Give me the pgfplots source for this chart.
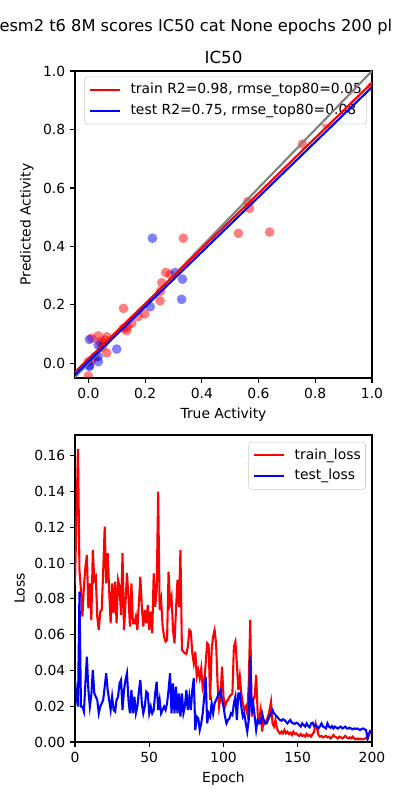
\documentclass[border=0pt]{standalone}
\usepackage{pgfplots}
\pgfplotsset{compat=1.18}
\usepackage{pgfplotstable}
\usepackage{fontspec}
\setmainfont{DejaVu Sans}

\pgfplotstableread{
x y
0.335 0.428
0.529 0.445
0.639 0.449
0.562 0.553
0.568 0.530
0.755 0.750
0.839 0.819
0.924 0.929
1.000 0.946
0.273 0.311
0.288 0.304
0.259 0.276
0.254 0.247
0.253 0.214
0.124 0.188
0.199 0.169
0.176 0.160
0.153 0.137
0.138 0.125
0.135 0.112
0.124 0.120
0.035 0.094
0.012 0.086
0.065 0.091
0.053 0.068
0.047 0.055
0.065 0.036
0.024 0.023
0.012 0.011
0.000 0.006
0.000 -0.043
0.041 0.074
0.059 0.080
}\traintab

\pgfplotstableread{
x y
0.226 0.428
0.306 0.311
0.332 0.288
0.329 0.219
0.218 0.194
0.100 0.049
0.004 0.082
0.035 0.063
0.035 0.023
0.035 0.006
0.004 -0.006
0.004 -0.011
}\testtab

\pgfplotstableread{
epoch train test
0 0.0878 0.0347
1 0.1278 0.0253
2 0.1638 0.0198
3 0.0961 0.0840
4 0.0850 0.0198
5 0.0701 0.0198
6 0.0868 0.0170
7 0.0980 0.0328
8 0.1045 0.0477
9 0.0747 0.0291
10 0.0887 0.0198
11 0.0682 0.0263
12 0.1073 0.0402
13 0.0906 0.0272
14 0.0924 0.0253
15 0.0701 0.0235
16 0.0626 0.0160
17 0.0729 0.0198
18 0.0738 0.0216
19 0.0961 0.0235
20 0.1204 0.0309
21 0.0887 0.0384
22 0.1055 0.0291
23 0.0850 0.0235
24 0.0663 0.0179
25 0.0887 0.0253
26 0.0719 0.0179
27 0.0896 0.0170
28 0.0663 0.0235
29 0.0906 0.0253
30 0.0868 0.0328
31 0.0710 0.0347
32 0.1055 0.0179
33 0.0626 0.0291
34 0.0775 0.0347
35 0.0943 0.0384
36 0.0812 0.0235
37 0.0645 0.0160
38 0.0887 0.0291
39 0.0663 0.0160
40 0.0663 0.0253
41 0.0701 0.0160
42 0.0626 0.0198
43 0.0775 0.0281
44 0.0924 0.0347
45 0.0756 0.0216
46 0.0645 0.0160
47 0.0738 0.0198
48 0.0663 0.0281
49 0.0766 0.0272
50 0.0626 0.0160
51 0.0729 0.0198
52 0.0607 0.0160
53 0.0943 0.0179
54 0.0756 0.0272
55 0.0850 0.0337
56 0.1399 0.0179
57 0.0738 0.0235
58 0.0794 0.0160
59 0.0645 0.0179
60 0.0589 0.0198
61 0.0561 0.0179
62 0.0570 0.0216
63 0.0952 0.0291
64 0.0775 0.0384
65 0.0812 0.0160
66 0.0626 0.0328
67 0.0552 0.0160
68 0.0738 0.0309
69 0.0906 0.0160
70 0.0756 0.0272
71 0.1073 0.0142
72 0.0514 0.0272
73 0.0505 0.0160
74 0.0496 0.0198
75 0.0492 0.0291
76 0.0533 0.0179
77 0.0626 0.0253
78 0.0617 0.0179
79 0.0496 0.0291
80 0.0440 0.0356
81 0.0505 0.0067
82 0.0365 0.0142
83 0.0402 0.0132
84 0.0356 0.0067
85 0.0412 0.0104
86 0.0300 0.0160
87 0.0328 0.0253
88 0.0440 0.0365
89 0.0552 0.0104
90 0.0542 0.0160
91 0.0235 0.0142
92 0.0514 0.0216
93 0.0589 0.0160
94 0.0626 0.0216
95 0.0552 0.0235
96 0.0328 0.0253
97 0.0198 0.0272
98 0.0253 0.0291
99 0.0421 0.0235
100 0.0253 0.0198
101 0.0198 0.0142
102 0.0225 0.0104
103 0.0235 0.0123
104 0.0253 0.0132
105 0.0263 0.0160
106 0.0272 0.0151
107 0.0533 0.0216
108 0.0561 0.0253
109 0.0440 0.0123
110 0.0291 0.0272
111 0.0365 0.0272
112 0.0272 0.0198
113 0.0216 0.0142
114 0.0179 0.0160
115 0.0198 0.0104
116 0.0160 0.0058
117 0.0328 0.0123
118 0.0682 0.0477
119 0.0142 0.0160
120 0.0235 0.0216
121 0.0253 0.0142
122 0.0375 0.0067
123 0.0160 0.0123
124 0.0123 0.0104
125 0.0179 0.0104
126 0.0058 0.0160
127 0.0123 0.0123
128 0.0104 0.0104
129 0.0123 0.0104
130 0.0142 0.0123
131 0.0179 0.0142
132 0.0225 0.0160
133 0.0104 0.0179
134 0.0086 0.0160
135 0.0123 0.0151
136 0.0076 0.0142
137 0.0058 0.0132
138 0.0048 0.0123
139 0.0058 0.0119
140 0.0048 0.0127
141 0.0067 0.0123
142 0.0048 0.0114
143 0.0058 0.0104
144 0.0045 0.0114
145 0.0052 0.0123
146 0.0039 0.0108
147 0.0058 0.0104
148 0.0045 0.0101
149 0.0048 0.0108
150 0.0039 0.0104
151 0.0034 0.0095
152 0.0045 0.0086
153 0.0034 0.0104
154 0.0039 0.0095
155 0.0030 0.0086
156 0.0045 0.0104
157 0.0034 0.0089
158 0.0039 0.0082
159 0.0030 0.0104
160 0.0045 0.0108
161 0.0058 0.0089
162 0.0104 0.0095
163 0.0076 0.0086
164 0.0039 0.0076
165 0.0030 0.0089
166 0.0034 0.0104
167 0.0026 0.0086
168 0.0030 0.0082
169 0.0034 0.0076
170 0.0026 0.0104
171 0.0030 0.0086
172 0.0020 0.0080
173 0.0026 0.0089
174 0.0039 0.0076
175 0.0030 0.0086
176 0.0026 0.0080
177 0.0020 0.0075
178 0.0030 0.0082
179 0.0026 0.0086
180 0.0020 0.0076
181 0.0026 0.0080
182 0.0034 0.0086
183 0.0026 0.0076
184 0.0020 0.0075
185 0.0026 0.0080
186 0.0020 0.0075
187 0.0030 0.0071
188 0.0020 0.0076
189 0.0015 0.0073
190 0.0020 0.0076
191 0.0015 0.0071
192 0.0019 0.0067
193 0.0015 0.0073
194 0.0015 0.0076
195 0.0019 0.0071
196 0.0022 0.0067
197 0.0015 0.0020
198 0.0039 0.0048
199 0.0058 0.0067
}\losstab

\pgfplotsset{
  mplstyle/.style={
    scale only axis,
    width=213.84pt, height=221.04pt,
    axis line style={line width=0.8pt},
    tick align=outside, tick pos=left,
    major tick length=3.5pt,
    every tick/.style={black, line width=0.8pt},
    /pgf/number format/assume math mode=true,
    tick label style={font=\fontsize{10}{12}\selectfont},
    label style={font=\fontsize{10}{12}\selectfont},
    title style={font=\fontsize{12}{14}\selectfont},
    legend cell align=left,
    legend image code/.code={\draw[#1, line width=1.5pt] (0pt,0pt) -- (21pt,0pt);},
    legend style={draw=black!20, rounded corners=2pt, fill=white, fill opacity=0.8, text opacity=1,
      font=\fontsize{10}{12}\selectfont, inner xsep=3.4pt, inner ysep=4.5pt, row sep=4.9pt,
      nodes={inner sep=0pt, text height=7.6pt, text depth=2.4pt},
      /tikz/every odd column/.append style={column sep=7.2pt}},
  }
}

\begin{document}
\begin{tikzpicture}
\path[use as bounding box] (0,0) rectangle (288pt,576pt);
\node[anchor=base, inner sep=0pt, font=\fontsize{11.7}{14}\selectfont] at (141pt,553pt) {esm2 t6 8M scores IC50 cat None epochs 200 pl};

\begin{axis}[mplstyle,
  at={(54pt,303.84pt)}, anchor=south west,
  xmin=-0.047, xmax=1.0, ymin=-0.05, ymax=1.0,
  xtick={0,0.2,0.4,0.6,0.8,1.0}, ytick={0,0.2,0.4,0.6,0.8,1.0},
  xticklabel style={/pgf/number format/.cd, fixed, fixed zerofill, precision=1},
  yticklabel style={/pgf/number format/.cd, fixed, fixed zerofill, precision=1},
  xlabel={True Activity}, ylabel={Predicted Activity},
  title={IC50}, title style={yshift=-4.3pt},
  clip marker paths=true,
  legend style={at={(0,1)}, anchor=north west, xshift=6.7pt, yshift=-4.1pt},
]
\addplot[only marks, mark=*, mark size=3.5pt, mark options={draw opacity=0, fill=red, fill opacity=0.5, line width=0pt}, forget plot] table[x=x,y=y] {\traintab};
\addplot[only marks, mark=*, mark size=3.5pt, mark options={draw opacity=0, fill=blue, fill opacity=0.5, line width=0pt}, forget plot] table[x=x,y=y] {\testtab};
\addlegendimage{red, line width=1.5pt}
\addlegendentry{train R2=0.98, rmse\_top80=0.05}
\addlegendimage{blue, line width=1.5pt}
\addlegendentry{test R2=0.75, rmse\_top80=0.08}
\end{axis}

% regression lines drawn above the legend, as in the reference
\begin{axis}[
  scale only axis, width=213.84pt, height=221.04pt,
  at={(54pt,303.84pt)}, anchor=south west,
  xmin=-0.047, xmax=1.0, ymin=-0.05, ymax=1.0,
  hide axis,
]
\addplot[gray, line width=1.5pt] coordinates {(-0.05,-0.05) (1.0,1.0)};
\addplot[red, line width=1.5pt] coordinates {(-0.05,-0.0323) (1.0,0.960)};
\addplot[blue, line width=1.5pt] coordinates {(-0.05,-0.042) (1.0,0.945)};
\end{axis}

\begin{axis}[mplstyle,
  at={(54pt,41.76pt)}, anchor=south west,
  xmin=0, xmax=200, ymin=0, ymax=0.1716,
  xtick={0,50,100,150,200},
  ytick={0,0.02,0.04,0.06,0.08,0.10,0.12,0.14,0.16},
  yticklabel style={/pgf/number format/.cd, fixed, fixed zerofill, precision=2},
  scaled y ticks=false,
  xlabel={Epoch}, ylabel={Loss},
  legend style={at={(1,1)}, anchor=north east, xshift=-4.5pt, yshift=-5pt},
]
\addplot[red, line width=1.5pt] table[x=epoch, y=train] {\losstab};
\addlegendentry{train\_loss}
\addplot[blue, line width=1.5pt] table[x=epoch, y=test] {\losstab};
\addlegendentry{test\_loss}
\end{axis}
\end{tikzpicture}
\end{document}
